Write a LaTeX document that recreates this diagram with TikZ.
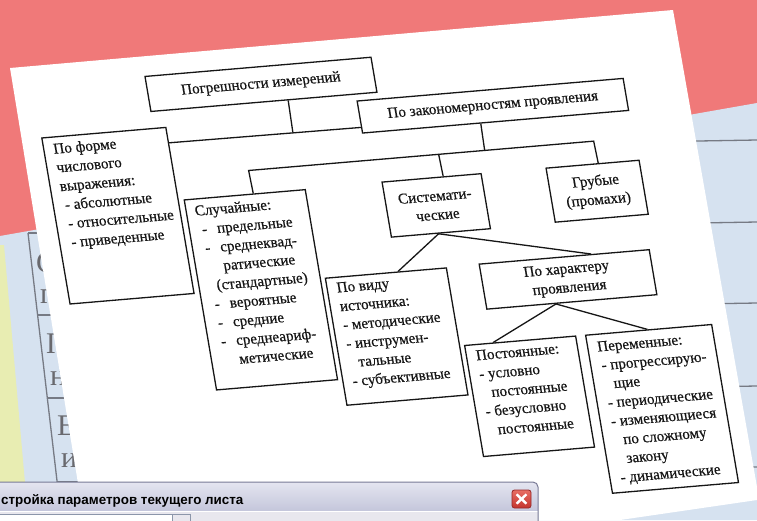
\documentclass[tikz,border=0pt]{standalone}
\usepackage{fontspec}
\setmainfont{Liberation Serif}
\newfontfamily\sheetfont{Liberation Serif}[FakeBold=0.5]
\newfontfamily\dlgfont{Liberation Sans}
\usetikzlibrary{calc}
\definecolor{bgred}{RGB}{240,121,121}
\definecolor{bgblue}{RGB}{214,226,240}
\definecolor{bgyellow}{RGB}{232,237,178}
\definecolor{tblgray}{RGB}{118,122,132}
\definecolor{ink}{RGB}{22,22,22}
\definecolor{lettergray}{RGB}{105,105,110}
\definecolor{titletop}{RGB}{228,229,240}
\definecolor{titlebot}{RGB}{164,167,198}
\definecolor{dlgborder}{RGB}{120,122,150}
\definecolor{panel}{RGB}{232,231,238}
\definecolor{inputborder}{RGB}{140,150,170}
\definecolor{closetop}{RGB}{232,110,100}
\definecolor{closebot}{RGB}{196,52,46}
\definecolor{closeborder}{RGB}{150,40,40}
\begin{document}
\begin{tikzpicture}[x=1pt,y=-1pt,
  bx/.style={draw=ink, line width=1.3pt, inner sep=0pt, anchor=north west, text=ink},
  cbx/.style={bx, align=center, font=\sheetfont\fontsize{15pt}{18.7pt}\selectfont},
  txt/.style={anchor=north west, inner sep=0pt, align=left, text=ink, font=\sheetfont\fontsize{15pt}{18.7pt}\selectfont},
  conn/.style={draw=ink, line width=1.3pt},
  tline/.style={draw=tblgray, line width=1.3pt},
  tletter/.style={anchor=base west, inner sep=0pt, text=lettergray, font=\fontsize{30pt}{30pt}\selectfont}]
\useasboundingbox (0,0) rectangle (757,520);
% background
\fill[bgred] (0,0) rectangle (757,520);
\fill[bgblue] (0,236) -- (757,103) -- (757,520) -- (0,520) -- cycle;
\fill[bgyellow] (0,245) -- (4,245) -- (25,483) -- (0,483) -- cycle;
% table on the left
\draw[tline] (28,233) -- (57.5,485);
\draw[tline] (28,233) -- (48,233);
\draw[tline] (37.6,315) -- (70,315);
\draw[tline] (47.5,398) -- (80,398);
\draw[tline] (57.3,482) -- (90,482);
\node[tletter] (l1) at (36,272) {С};
\node[tletter] (l2) at (40,303) {г};
\node[tletter] (l3) at (46,353) {П};
\node[tletter] (l4) at (50,385) {н};
\node[tletter] (l5) at (57,435) {Е};
\node[tletter] (l6) at (61,467) {и};
% table lines on the right
\foreach \yy in {140,222,303,386,467} \draw[tline] (640,\yy+2) -- (757,\yy);
% sheet
\fill[white] (10,68) -- (673,10) -- (757,487) -- (757,500) -- (620,520) -- (84,520) -- cycle;
% diagram on the sheet
\begin{scope}[cm={1,0.085,-0.17,1,(10pt,-68pt)}, transform shape]
\node[cbx, minimum width=226pt, minimum height=35pt] (A) at (131,19) {Погрешности измерений};
\node[cbx, minimum width=266pt, minimum height=32pt] (B) at (336,61) {По закономерностям проявления};
\node[bx, minimum width=124pt, minimum height=166pt] (C) at (19,71) {};
\node[txt] (tC) at (29,75) {\strut По форме\\числового\\выражения:\\\hspace*{2pt}- абсолютные\\\hspace*{2pt}- относительные\\\hspace*{2pt}- приведенные};
\node[bx, minimum width=121pt, minimum height=190pt] (D) at (149,144) {};
\node[txt] (tD) at (158,148) {\strut Случайные:\\
\hspace*{4pt}-\hspace*{10pt}предельные\\
\hspace*{4pt}-\hspace*{10pt}среднеквад-\\
\hspace*{19pt}ратические\\
\hspace*{9pt}(стандартные)\\
\hspace*{4pt}-\hspace*{10pt}вероятные\\
\hspace*{4pt}-\hspace*{10pt}средние\\
\hspace*{4pt}-\hspace*{10pt}среднеариф-\\
\hspace*{19pt}метические};
\node[cbx, minimum width=99pt, minimum height=55pt] (E) at (347,143) {Системати-\\ческие};
\node[cbx, minimum width=93pt, minimum height=54pt] (F) at (511,143) {Грубые\\(промахи)};
\node[bx, minimum width=121pt, minimum height=127pt] (G) at (275,233) {};
\node[txt] (tG) at (285,235.5) {\strut По виду\\источника:\\- методические\\- инструмен-\\\hspace*{9pt}тальные\\- субъективные};
\node[cbx, minimum width=170pt, minimum height=45pt] (H) at (429,232) {По характеру\\проявления};
\node[bx, minimum width=111pt, minimum height=111pt] (I) at (401,311) {};
\node[txt] (tI) at (411,314) {\strut Постоянные:\\- условно\\\hspace*{9pt}постоянные\\- безусловно\\\hspace*{9pt}постоянные};
\node[bx, minimum width=126pt, minimum height=158pt] (J) at (522,311) {};
\node[txt] (tJ) at (532,315.5) {\strut Переменные:\\\hspace*{1pt}- прогрессирую-\\\hspace*{10pt}щие\\\hspace*{1pt}- периодические\\\hspace*{1pt}- изменяющиеся\\\hspace*{10pt}по сложному\\\hspace*{10pt}закону\\\hspace*{1pt}- динамические};
% connectors
\coordinate (j1) at (268,87);
\coordinate (j2) at (454,121);
\coordinate (k1) at (218,121);
\coordinate (k2) at (408,121);
\coordinate (k3) at (563,121);
\draw[conn] ($(A.south west)!0.606!(A.south east)$) -- (j1);
\draw[conn] ($(C.north east)!0.096!(C.south east)$) -- ($(B.north west)!0.81!(B.south west)$);
\draw[conn] ($(B.south west)!0.444!(B.south east)$) -- (j2);
\draw[conn] ($(D.north west)!0.57!(D.north east)$) -- (k1) -- (k3) -- ($(F.north west)!0.56!(F.north east)$);
\draw[conn] (k2) -- ($(E.north west)!0.616!(E.north east)$);
\draw[conn] ($(E.south west)!0.475!(E.south east)$) -- ($(G.north west)!0.6!(G.north east)$);
\draw[conn] ($(E.south west)!0.475!(E.south east)$) -- ($(H.north west)!0.657!(H.north east)$);
\draw[conn] ($(H.south west)!0.406!(H.south east)$) -- ($(I.north west)!0.26!(I.north east)$);
\draw[conn] ($(H.south west)!0.406!(H.south east)$) -- ($(J.north west)!0.49!(J.north east)$);
\end{scope}
% dialog window
\shade[top color=titletop, bottom color=titlebot, rounded corners=5pt] (-6,482) rectangle (538,540);
\fill[panel] (-6,512) rectangle (537.5,521);
\draw[white, line width=1pt] (-6,511.5) -- (537.5,511.5);
\draw[dlgborder, line width=1pt, rounded corners=5pt] (-6,545) -- (-6,482) -- (538,482) -- (538,545);
\node[anchor=base west, inner sep=0pt, text=black, font=\dlgfont\bfseries\fontsize{13.4pt}{15pt}\selectfont] (title) at (1,504) {стройка параметров текущего листа};
\draw[inputborder, fill=white] (-3,514.5) rectangle (172,526);
\draw[inputborder, fill=panel] (172,514.5) rectangle (190,526);
\node[draw=closeborder, line width=0.8pt, rounded corners=2.5pt, minimum width=19pt, minimum height=18pt, top color=closetop, bottom color=closebot, inner sep=0pt] (close) at (521.5,499) {};
\draw[white, line width=2.4pt] ($(close.north west)!0.25!(close.south east)$) -- ($(close.north west)!0.75!(close.south east)$);
\draw[white, line width=2.4pt] ($(close.north east)!0.25!(close.south west)$) -- ($(close.north east)!0.75!(close.south west)$);
\end{tikzpicture}
\end{document}
